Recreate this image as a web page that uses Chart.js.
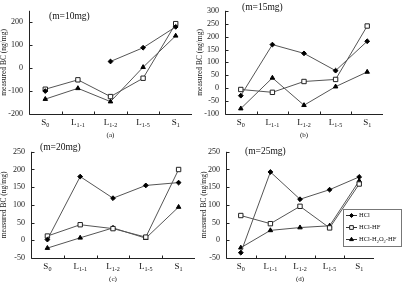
<!DOCTYPE html>
<html>
<head>
<meta charset="utf-8">
<script src="https://cdn.jsdelivr.net/npm/chart.js@4"></script>
<style>
  html, body { margin: 0; padding: 0; background: #fff; }
  #wrap { position: relative; width: 404px; height: 282px; overflow: hidden; }
  .panel { position: absolute; }
</style>
</head>
<body>
<div id="wrap">
  <div class="panel" style="left:0px;top:0px;width:202px;height:141px"><canvas id="cA"></canvas></div>
  <div class="panel" style="left:196px;top:0px;width:208px;height:141px"><canvas id="cB"></canvas></div>
  <div class="panel" style="left:0px;top:141px;width:202px;height:141px"><canvas id="cC"></canvas></div>
  <div class="panel" style="left:200px;top:141px;width:204px;height:141px"><canvas id="cD"></canvas></div>
</div>
<script>
// categorias (letra + subindice)
const catMain = ['S', 'L', 'L', 'L', 'S'];
const catSub = ['0', '1-1', '1-2', '1-5', '1'];
const categories = ['S0', 'L1-1', 'L1-2', 'L1-5', 'S1'];

const seriesNames = ['HCl', 'HCl-HF', 'HCl-H2O2-HF'];

// (a) m=10mg
const hclA = [-100, null, 29, 89, 180];
const hfA = [-92, -51, -124, -44, 194];
const h2o2A = [-135, -88, -146, 4, 141];
// (b) m=15mg
const hclB = [-29, 169, 135, 68, 182];
const hfB = [-5, -16, 26, 34, 241];
const h2o2B = [-79, 40, -66, 6, 63];
// (c) m=20mg
const hclC = [2, 180, 119, 155, 163];
const hfC = [12, 44, 33, 9, 200];
const h2o2C = [-22, 7, 35, 6, 94];
// (d) m=25mg
const hclD = [-35, 193, 116, 143, 179];
const hfD = [70, 47, 96, 35, 159];
const h2o2D = [-21, 28, 36, 41, 168];

// limites de los ejes y
const yMinA = -200, yMaxA = 250;
const yMinB = -100, yMaxB = 300;
const yMinC = -50, yMaxC = 250;
const yMinD = -50, yMaxD = 250;
const yStep = 50;

const FONT = "'Liberation Serif', 'DejaVu Serif', serif";

// dibuja texto con subindices: parts = [[texto, esSub], ...]
function drawRich(ctx, parts, x, y, size, align) {
    const subSize = size * 0.68;
    let total = 0;
    parts.forEach(function (p) {
        ctx.font = (p[1] ? subSize : size) + 'px ' + FONT;
        total += ctx.measureText(p[0]).width;
    });
    let cx = align === 'center' ? x - total / 2 : x;
    ctx.textAlign = 'left';
    ctx.textBaseline = 'middle';
    parts.forEach(function (p) {
        ctx.font = (p[1] ? subSize : size) + 'px ' + FONT;
        ctx.fillText(p[0], cx, p[1] ? y + size * 0.3 : y);
        cx += ctx.measureText(p[0]).width;
    });
}

function legendParts(name) {
    if (name === 'HCl-H2O2-HF') {
        return [['HCl-H', false], ['2', true], ['O', false], ['2', true], ['-HF', false]];
    }
    return [[name, false]];
}

const panelPlugin = {
    id: 'panel',
    afterDraw(chart, args, opts) {
        const ctx = chart.ctx;
        const ca = chart.chartArea;
        const x = chart.scales.x;
        const y = chart.scales.y;
        ctx.save();
        ctx.strokeStyle = '#222';
        ctx.lineWidth = 1;
        ctx.beginPath();
        const lx = Math.round(ca.left) + 0.5;
        const by = Math.round(ca.bottom) + 0.5;
        ctx.moveTo(lx, ca.top);
        ctx.lineTo(lx, by);
        ctx.lineTo(ca.right, by);
        // marcas hacia dentro en y
        y.ticks.forEach(function (t) {
            const py = Math.round(y.getPixelForValue(t.value)) + 0.5;
            ctx.moveTo(lx, py);
            ctx.lineTo(lx + 3, py);
        });
        // marcas entre categorias
        for (let i = 1; i < categories.length; i++) {
            const px = Math.round((x.getPixelForTick(i - 1) + x.getPixelForTick(i)) / 2) + 0.5;
            ctx.moveTo(px, by);
            ctx.lineTo(px, by - 3);
        }
        ctx.stroke();

        // etiquetas de categoria
        ctx.fillStyle = '#111';
        for (let i = 0; i < categories.length; i++) {
            const px = x.getPixelForTick(i);
            drawRich(ctx, [[catMain[i], false], [catSub[i], true]], px, ca.bottom + 9, 9, 'center');
        }
        // (a), (b)...
        ctx.font = '7px ' + FONT;
        ctx.textAlign = 'center';
        ctx.textBaseline = 'middle';
        ctx.fillText(opts.tag, (ca.left + ca.right) / 2, ca.bottom + 21);

        // titulo (m=..mg)
        ctx.font = '9.5px ' + FONT;
        ctx.textAlign = 'left';
        ctx.fillText(opts.title, ca.left + opts.tx, ca.top + opts.ty);

        // leyenda
        if (opts.legend) {
            const bx = opts.legend.x, byy = opts.legend.y, bw = opts.legend.w, bh = opts.legend.h;
            ctx.fillStyle = '#fff';
            ctx.fillRect(bx, byy, bw, bh);
            ctx.strokeStyle = '#777';
            ctx.strokeRect(bx + 0.5, byy + 0.5, bw, bh);
            chart.data.datasets.forEach(function (ds, i) {
                const ey = byy + 6.5 + i * 12;
                ctx.strokeStyle = '#333';
                ctx.lineWidth = 1;
                ctx.beginPath();
                ctx.moveTo(bx + 3, ey);
                ctx.lineTo(bx + 14, ey);
                ctx.stroke();
                ctx.fillStyle = ds.pointBackgroundColor;
                ctx.strokeStyle = ds.pointBorderColor;
                Chart.helpers.drawPoint(ctx, {
                    pointStyle: ds.pointStyle,
                    radius: ds.pointRadius * 0.85,
                    borderWidth: 1
                }, bx + 8.5, ey);
                ctx.fillStyle = '#111';
                drawRich(ctx, legendParts(ds.label), bx + 16, ey, 6.5, 'left');
            });
        }
        ctx.restore();
    }
};

function makeDatasets(hcl, hf, h2o2) {
    return [
        {
            label: seriesNames[0], data: hcl, borderColor: '#555', borderWidth: 1,
            pointStyle: 'rectRot', pointRadius: 2.4, pointBackgroundColor: '#000',
            pointBorderColor: '#000', pointBorderWidth: 1, spanGaps: false
        },
        {
            label: seriesNames[1], data: hf, borderColor: '#555', borderWidth: 1,
            pointStyle: 'rect', pointRadius: 3.1, pointBackgroundColor: '#fff',
            pointBorderColor: '#222', pointBorderWidth: 1
        },
        {
            label: seriesNames[2], data: h2o2, borderColor: '#555', borderWidth: 1,
            pointStyle: 'triangle', pointRadius: 2.6, pointBackgroundColor: '#000',
            pointBorderColor: '#000', pointBorderWidth: 1
        }
    ];
}

function crearPanel(id, ds, cfg) {
    const ctx = document.getElementById(id).getContext('2d');
    return new Chart(ctx, {
        type: 'line',
        data: { labels: categories, datasets: ds },
        plugins: [panelPlugin],
        options: {
            responsive: true,
            maintainAspectRatio: false,
            animation: false,
            events: [],
            layout: { padding: { left: 0, top: cfg.padTop, right: cfg.padRight, bottom: 0 } },
            plugins: {
                legend: { display: false },
                tooltip: { enabled: false },
                panel: cfg.panel
            },
            scales: {
                x: {
                    offset: true,
                    grid: { display: false, drawTicks: false },
                    border: { display: false },
                    ticks: { display: false },
                    afterFit: function (scale) { scale.height = cfg.xHeight; }
                },
                y: {
                    min: cfg.min, max: cfg.max,
                    grid: { display: false, drawTicks: false },
                    border: { display: false },
                    ticks: {
                        stepSize: yStep, padding: 6, color: '#222',
                        font: { family: FONT, size: 8 }
                    },
                    title: {
                        display: true, text: 'measured BC (ng/mg)', color: '#222',
                        font: { family: FONT, size: 7.5 }, padding: 0
                    },
                    afterFit: function (scale) { scale.width = cfg.yWidth; }
                }
            }
        }
    });
}

crearPanel('cA', makeDatasets(hclA, hfA, h2o2A), {
    min: yMinA, max: yMaxA, padTop: 4, padRight: 10, xHeight: 27, yWidth: 29,
    panel: { tag: '(a)', title: '(m=10mg)', tx: 20, ty: 6 }
});
crearPanel('cB', makeDatasets(hclB, hfB, h2o2B), {
    min: yMinB, max: yMaxB, padTop: 7, padRight: 21, xHeight: 27, yWidth: 29,
    panel: { tag: '(b)', title: '(m=15mg)', tx: 17, ty: -3 }
});
crearPanel('cC', makeDatasets(hclC, hfC, h2o2C), {
    min: yMinC, max: yMaxC, padTop: 9, padRight: 7, xHeight: 24, yWidth: 31,
    panel: { tag: '(c)', title: '(m=20mg)', tx: 9, ty: -4 }
});
crearPanel('cD', makeDatasets(hclD, hfD, h2o2D), {
    min: yMinD, max: yMaxD, padTop: 5, padRight: 30, xHeight: 24, yWidth: 26,
    panel: {
        tag: '(d)', title: '(m=25mg)', tx: 19, ty: 0,
        legend: { x: 143, y: 68, w: 58, h: 37 }
    }
});
</script>
</body>
</html>
